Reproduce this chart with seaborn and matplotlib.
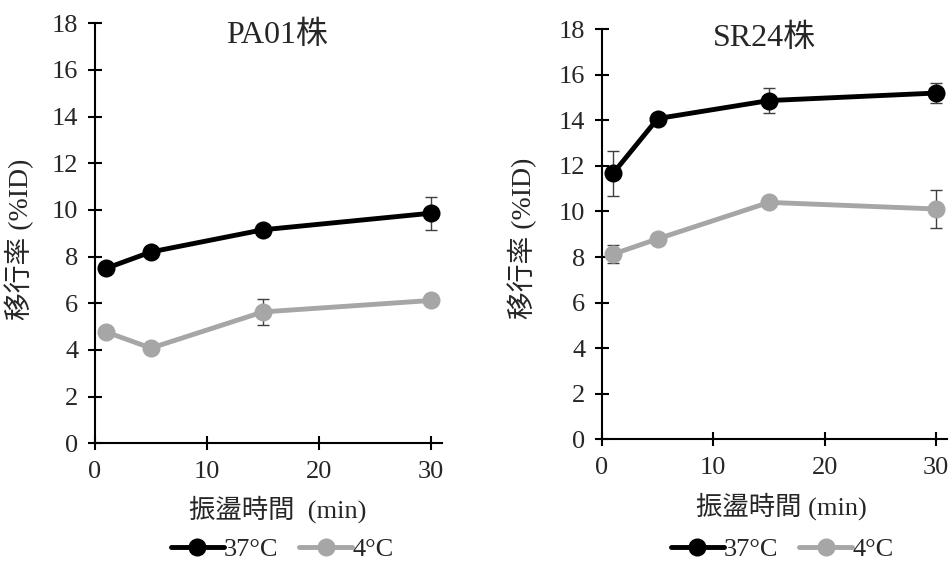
import matplotlib
matplotlib.use("Agg")
import matplotlib.pyplot as plt
import seaborn as sns
import pandas as pd

# Data
time_min = [1, 5, 15, 30]
temps = ["37°C", "4°C"]

pa01_37 = [7.5, 8.2, 9.15, 9.86]
pa01_37_err = [0.15, 0.15, 0.15, 0.7]
pa01_4 = [4.77, 4.08, 5.63, 6.12]
pa01_4_err = [0.15, 0.15, 0.57, 0.12]

sr24_37 = [11.68, 14.08, 14.87, 15.2]
sr24_37_err = [0.98, 0.15, 0.55, 0.42]
sr24_4 = [8.13, 8.8, 10.4, 10.11]
sr24_4_err = [0.38, 0.12, 0.2, 0.84]

titles = ["PA01株", "SR24株"]
xlabels = ["振盪時間  (min)", "振盪時間 (min)"]
ylabel = "移行率 (%ID)"

colors = {"37°C": "#000000", "4°C": "#a6a6a6"}

FONTS = ["Liberation Serif", "Noto Sans CJK JP"]

sns.set_style("ticks")
plt.rcParams["font.family"] = FONTS
plt.rcParams["axes.linewidth"] = 1.5

fig = plt.figure(figsize=(9.52, 5.65), dpi=100)
ax1 = fig.add_axes([0.0998, 0.2154, 0.3645, 0.7434])
ax2 = fig.add_axes([0.6324, 0.2225, 0.3624, 0.7257])

panels = [
    (ax1, pa01_37, pa01_37_err, pa01_4, pa01_4_err),
    (ax2, sr24_37, sr24_37_err, sr24_4, sr24_4_err),
]
title_pos = [(0.524, 0.972), (0.47, 0.977)]
ylabel_pos = [(-0.175, 0.486), (-0.188, 0.49)]
xlabel_pos = [(0.527, -0.123), (0.519, -0.129)]
legend_pos = [(0.539, -0.252), (0.522, -0.268)]

for i, (ax, y37, e37, y4, e4) in enumerate(panels):
    df = pd.DataFrame({
        "time": time_min * 2,
        "rate": y37 + y4,
        "err": e37 + e4,
        "temp": [temps[0]] * 4 + [temps[1]] * 4,
    })
    # error bars first, so the markers sit on top
    for t in temps:
        sub = df[df["temp"] == t]
        ax.errorbar(sub["time"], sub["rate"], yerr=sub["err"], fmt="none",
                    ecolor="#404040", elinewidth=1, capsize=4, capthick=1, zorder=2)
    sns.lineplot(data=df, x="time", y="rate", hue="temp", hue_order=temps,
                 palette=colors, marker="o", markersize=13, markeredgewidth=0,
                 linewidth=3.5, ax=ax, zorder=3)

    ax.set_xlim(0, 31)
    ax.set_ylim(0, 18)
    ax.set_xticks([0, 10, 20, 30])
    ax.set_yticks(range(0, 19, 2))
    sns.despine(ax=ax)
    ax.tick_params(direction="inout", length=10, width=1.5, labelsize=19, color="black")
    ax.tick_params(axis="y", pad=7)
    ax.tick_params(axis="x", pad=8)
    for lbl in ax.get_xticklabels() + ax.get_yticklabels():
        lbl.set_fontfamily(FONTS)
    ax.spines["left"].set_color("black")
    ax.spines["bottom"].set_color("black")

    ax.text(title_pos[i][0], title_pos[i][1], titles[i], transform=ax.transAxes,
            ha="center", va="center", fontsize=23, family=FONTS)
    ax.set_xlabel(xlabels[i], fontsize=19, family=FONTS)
    ax.set_ylabel(ylabel, fontsize=20, family=FONTS)
    ax.xaxis.set_label_coords(*xlabel_pos[i])
    ax.yaxis.set_label_coords(*ylabel_pos[i])

    ax.legend(loc="center", bbox_to_anchor=legend_pos[i], ncol=2, frameon=False,
              prop={"family": FONTS, "size": 19},
              handlelength=2.0, handletextpad=0.0, columnspacing=0.8)

fig.savefig("out.png", dpi=100)
